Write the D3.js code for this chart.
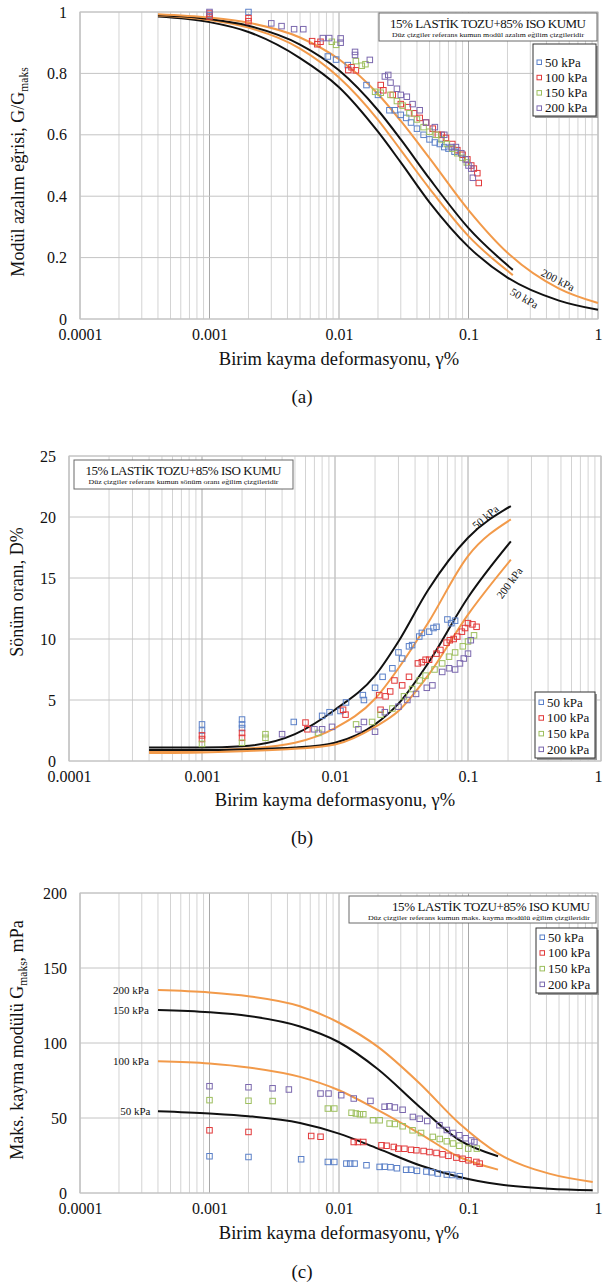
<!DOCTYPE html>
<html>
<head>
<meta charset="utf-8">
<script src="https://cdn.jsdelivr.net/npm/d3@7"></script>
<style>
  body { margin: 0; background: #fff; }
  svg { display: block; }
  text { font-family: "Liberation Serif", "Times New Roman", serif; fill: #111; }
</style>
</head>
<body>
<svg id="chart" width="603" height="1288"></svg>
<script>
// --- Data ---
const seriesNames = ["50 kPa", "100 kPa", "150 kPa", "200 kPa"];
const seriesColors = ["#5b80c8", "#e2393a", "#9dbf5e", "#7b68ae"];
const refColors = ["#111111", "#f29a4a", "#111111", "#f29a4a"];

const xTicks = [0.0001, 0.001, 0.01, 0.1, 1];
const xTickLabels = ["0.0001", "0.001", "0.01", "0.1", "1"];

const yTicksA = [0, 0.2, 0.4, 0.6, 0.8, 1];
const yTickLabelsA = ["0", "0.2", "0.4", "0.6", "0.8", "1"];
const yTicksB = [0, 5, 10, 15, 20, 25];
const yTicksC = [0, 50, 100, 150, 200];

// (a) G/Gmaks - measured points [gamma %, G/Gmaks]
const a50 = [[0.001,0.99],[0.002,1.0],[0.0082,0.855],[0.0095,0.845],[0.0117,0.827],[0.0163,0.762],[0.02,0.73],[0.0245,0.68],[0.027,0.68],[0.03,0.665],[0.033,0.655],[0.036,0.64],[0.04,0.62],[0.045,0.6],[0.05,0.585],[0.055,0.575],[0.06,0.57],[0.065,0.56],[0.07,0.555],[0.078,0.545]];
const a100 = [[0.001,0.995],[0.001,0.985],[0.002,0.98],[0.002,0.97],[0.0062,0.905],[0.0068,0.895],[0.0072,0.903],[0.0118,0.811],[0.0125,0.82],[0.0135,0.81],[0.021,0.762],[0.022,0.745],[0.026,0.73],[0.03,0.7],[0.034,0.69],[0.038,0.67],[0.042,0.655],[0.047,0.64],[0.053,0.62],[0.058,0.6],[0.062,0.6],[0.067,0.59],[0.075,0.57],[0.082,0.55],[0.09,0.535],[0.098,0.52],[0.105,0.5],[0.11,0.49],[0.117,0.475],[0.12,0.443]];
const a150 = [[0.0088,0.903],[0.0095,0.893],[0.0135,0.84],[0.015,0.825],[0.016,0.83],[0.019,0.74],[0.021,0.737],[0.025,0.73],[0.028,0.71],[0.031,0.695],[0.035,0.67],[0.04,0.65],[0.045,0.625],[0.05,0.61],[0.056,0.6],[0.062,0.585],[0.068,0.57],[0.075,0.555],[0.082,0.54],[0.09,0.525],[0.097,0.51]];
const a200 = [[0.001,1.0],[0.003,0.963],[0.0036,0.954],[0.0045,0.944],[0.0053,0.944],[0.0075,0.915],[0.0084,0.915],[0.0103,0.914],[0.0103,0.9],[0.0133,0.87],[0.0133,0.86],[0.0173,0.844],[0.0226,0.79],[0.024,0.795],[0.025,0.77],[0.028,0.75],[0.03,0.73],[0.0334,0.724],[0.037,0.7],[0.042,0.68],[0.047,0.64],[0.055,0.625],[0.065,0.6],[0.074,0.56],[0.08,0.56],[0.088,0.54],[0.095,0.52],[0.1,0.5],[0.105,0.49],[0.108,0.46]];
// (a) reference sand trend lines
const refA50 = [[0.0004,0.985],[0.001,0.967],[0.002,0.935],[0.005,0.85],[0.01,0.755],[0.02,0.61],[0.03,0.51],[0.05,0.38],[0.1,0.235],[0.2,0.135],[0.5,0.06],[1,0.03]];
const refA100 = [[0.0004,0.989],[0.001,0.974],[0.002,0.949],[0.005,0.881],[0.01,0.787],[0.02,0.649],[0.03,0.55],[0.05,0.425],[0.1,0.27],[0.22,0.143]];
const refA150 = [[0.0004,0.99],[0.001,0.977],[0.002,0.955],[0.005,0.894],[0.01,0.81],[0.02,0.68],[0.03,0.585],[0.05,0.457],[0.1,0.296],[0.22,0.16]];
const refA200 = [[0.0004,0.993],[0.001,0.982],[0.002,0.965],[0.005,0.917],[0.01,0.846],[0.02,0.733],[0.03,0.645],[0.05,0.524],[0.1,0.355],[0.2,0.216],[0.5,0.099],[1,0.052]];

// (b) damping ratio D% - measured points
const b50 = [[0.001,3.0],[0.001,2.5],[0.002,3.4],[0.002,3.0],[0.002,2.7],[0.0049,3.2],[0.008,3.7],[0.0091,4.0],[0.011,4.1],[0.0121,4.8],[0.0162,5.4],[0.0165,5.0],[0.02,6.0],[0.0228,6.9],[0.027,7.6],[0.03,8.9],[0.032,8.4],[0.036,9.4],[0.038,9.5],[0.043,10.2],[0.045,10.5],[0.051,10.6],[0.055,10.9],[0.058,11.0],[0.07,11.6],[0.075,11.3],[0.08,11.5]];
const b100 = [[0.001,2.1],[0.001,1.8],[0.002,2.3],[0.002,1.9],[0.006,3.15],[0.0062,2.6],[0.0115,4.2],[0.012,3.8],[0.0215,5.4],[0.022,4.2],[0.024,5.3],[0.026,5.7],[0.028,6.6],[0.032,6.2],[0.036,6.9],[0.042,8.0],[0.045,8.1],[0.048,8.3],[0.051,8.3],[0.058,8.8],[0.062,9.1],[0.069,9.7],[0.073,9.9],[0.078,10.0],[0.083,10.2],[0.09,10.6],[0.095,10.9],[0.1,11.3],[0.108,11.2],[0.116,11.0]];
const b150 = [[0.001,1.4],[0.002,1.5],[0.003,2.2],[0.003,1.9],[0.0075,2.3],[0.0144,3.0],[0.019,3.2],[0.022,3.8],[0.027,4.3],[0.033,5.3],[0.038,5.9],[0.0433,6.6],[0.048,7.0],[0.056,7.5],[0.064,8.0],[0.072,8.55],[0.08,8.9],[0.0914,9.4],[0.1,9.8],[0.111,10.3]];
const b200 = [[0.004,2.2],[0.007,2.6],[0.008,2.6],[0.0095,2.8],[0.015,2.6],[0.0165,3.2],[0.02,2.4],[0.0237,4.0],[0.03,4.45],[0.035,5.0],[0.0407,5.5],[0.049,6.0],[0.054,6.2],[0.064,7.3],[0.072,7.6],[0.08,7.5],[0.087,8.0],[0.093,8.4],[0.1,8.8],[0.105,9.9]];
const refB50 = [[0.0004,1.1],[0.001,1.1],[0.002,1.2],[0.005,2.2],[0.01,4.2],[0.02,7.0],[0.03,9.8],[0.05,14.0],[0.1,18.3],[0.21,20.9]];
const refB100 = [[0.0004,0.8],[0.001,0.85],[0.002,1.0],[0.005,1.5],[0.01,2.7],[0.02,5.1],[0.03,7.6],[0.05,11.3],[0.1,16.8],[0.21,19.8]];
const refB150 = [[0.0004,0.9],[0.001,0.9],[0.002,0.95],[0.005,1.1],[0.01,1.5],[0.02,3.0],[0.03,4.7],[0.05,8.0],[0.1,13.4],[0.21,18.0]];
const refB200 = [[0.0004,0.65],[0.001,0.7],[0.002,0.8],[0.005,1.0],[0.01,1.35],[0.02,2.8],[0.03,4.1],[0.05,7.0],[0.1,12.0],[0.21,16.5]];

// (c) Gmaks - measured points
const c50 = [[0.001,24.5],[0.002,24],[0.0051,22.5],[0.0082,20.7],[0.0092,20.7],[0.0114,19.6],[0.0122,19.6],[0.0132,19.6],[0.0163,18.5],[0.0206,17.4],[0.0225,17.5],[0.025,17.2],[0.028,16.5],[0.033,15.5],[0.036,15.5],[0.04,14.8],[0.0473,14.3],[0.052,13.8],[0.058,13.0],[0.068,12.3],[0.075,12.0],[0.0855,11.2]];
const c100 = [[0.001,41.8],[0.002,40.7],[0.0061,38],[0.0072,37.5],[0.013,34],[0.014,34],[0.0154,34],[0.0213,31.8],[0.0233,31.5],[0.0265,30.7],[0.0287,29.6],[0.032,29.5],[0.036,28.8],[0.0396,28.5],[0.045,28],[0.05,27.3],[0.0566,26.7],[0.063,25.8],[0.07,24.8],[0.0806,23.6],[0.09,22.8],[0.1,21.8],[0.115,20.7],[0.122,19.6]];
const c150 = [[0.001,61.9],[0.002,61.5],[0.00307,61.3],[0.0082,56.3],[0.0092,56.3],[0.0125,53.5],[0.0135,53],[0.0145,52.5],[0.0154,52.5],[0.0183,48.5],[0.0206,48.5],[0.0246,46.3],[0.027,46],[0.031,44.5],[0.037,41.8],[0.043,40],[0.053,37.4],[0.06,36],[0.068,34.5],[0.076,33],[0.085,31.5],[0.0995,29.6],[0.116,29.6]];
const c200 = [[0.001,71.2],[0.002,70.5],[0.00307,69.8],[0.0041,69],[0.0072,66.3],[0.0083,66.3],[0.0104,65.2],[0.013,63],[0.0175,61.4],[0.0225,57.5],[0.0245,57.8],[0.027,57],[0.031,55.5],[0.0372,50.7],[0.042,49.5],[0.048,48],[0.0597,45.2],[0.068,42],[0.076,40],[0.085,38.5],[0.095,36.5],[0.105,35],[0.111,34]];
const refC50 = [[0.0004,54.5],[0.001,53],[0.002,51.2],[0.005,46.7],[0.01,39.6],[0.02,29.6],[0.042,18.5],[0.085,10.7],[0.17,5.8],[0.42,2.9],[0.91,1.8]];
const refC100 = [[0.0004,87.9],[0.001,86.4],[0.002,83.7],[0.005,77.4],[0.01,68.5],[0.02,55.2],[0.042,39.6],[0.085,24],[0.169,15.6]];
const refC150 = [[0.0004,122],[0.001,120.5],[0.002,118],[0.005,111],[0.01,100.5],[0.02,82.5],[0.042,57.4],[0.085,35.2],[0.169,24.5]];
const refC200 = [[0.0004,135.3],[0.001,133.7],[0.002,131.2],[0.005,124.5],[0.01,113.5],[0.02,97.4],[0.042,73],[0.085,46.3],[0.17,26.3],[0.42,12.9],[0.91,7.4]];

const boxTitle = "15% LASTİK TOZU+85% ISO KUMU";
const xTitle = "Birim kayma deformasyonu, γ%";

// --- Drawing ---
const svg = d3.select("#chart");

function drawPanel(p) {
  const g = svg.append("g");
  const x = d3.scaleLog().domain([1e-4, 1]).range([p.left, p.right]);
  const y = d3.scaleLinear().domain(p.yDomain).range([p.bottom, p.top]);

  // grid
  const minor = [];
  for (let e = -4; e < 0; e++) for (let k = 2; k < 10; k++) minor.push(k * Math.pow(10, e));
  g.append("g").selectAll("line").data(minor).join("line")
    .attr("x1", d => x(d)).attr("x2", d => x(d))
    .attr("y1", p.top).attr("y2", p.bottom)
    .attr("stroke", "#d3d3d3").attr("stroke-width", 1);
  g.append("g").selectAll("line").data(xTicks).join("line")
    .attr("x1", d => x(d)).attr("x2", d => x(d))
    .attr("y1", p.top).attr("y2", p.bottom)
    .attr("stroke", "#a8a8a8").attr("stroke-width", 1);
  g.append("g").selectAll("line").data(p.yTicks).join("line")
    .attr("x1", p.left).attr("x2", p.right)
    .attr("y1", d => y(d)).attr("y2", d => y(d))
    .attr("stroke", "#c4c4c4").attr("stroke-width", 1);
  g.append("rect")
    .attr("x", p.left).attr("y", p.top)
    .attr("width", p.right - p.left).attr("height", p.bottom - p.top)
    .attr("fill", "none").attr("stroke", "#c4c4c4");

  // axes
  const xa = g.append("g").attr("transform", `translate(0,${p.bottom})`)
    .call(d3.axisBottom(x).tickValues(xTicks).tickFormat((d, i) => xTickLabels[i]).tickSize(0).tickPadding(10));
  const ya = g.append("g").attr("transform", `translate(${p.left},0)`)
    .call(d3.axisLeft(y).tickValues(p.yTicks).tickFormat((d, i) => p.yLabels[i]).tickSize(0).tickPadding(13));
  [xa, ya].forEach(a => {
    a.select(".domain").remove();
    a.selectAll("text").attr("font-size", 16).attr("font-family", "Liberation Serif").attr("fill", "#222");
  });
  xa.selectAll("text").attr("dx", d => x(d) > 599 ? -3 : 0);

  // reference trend lines
  const line = d3.line().x(d => x(d[0])).y(d => y(d[1])).curve(d3.curveMonotoneX);
  g.append("g").selectAll("path").data(p.refs).join("path")
    .attr("d", line).attr("fill", "none")
    .attr("stroke", (d, i) => refColors[i]).attr("stroke-width", 2);

  // measured points
  p.points.forEach((pts, i) => {
    g.append("g").selectAll("rect").data(pts).join("rect")
      .attr("x", d => x(d[0]) - 2.75).attr("y", d => y(d[1]) - 2.75)
      .attr("width", 5.5).attr("height", 5.5)
      .attr("fill", "none").attr("stroke", seriesColors[i]).attr("stroke-width", 1);
  });

  // curve labels
  p.curveLabels.forEach(c => {
    g.append("text")
      .attr("transform", `translate(${x(c.g)},${y(c.v)}) rotate(${c.rot})`)
      .attr("text-anchor", c.anchor || "middle").attr("dy", "0.35em")
      .attr("font-size", c.size).text(c.text);
  });

  // title box
  const tb = p.titleBox;
  g.append("rect").attr("x", tb.x).attr("y", tb.y).attr("width", tb.w).attr("height", tb.h)
    .attr("fill", "#fff").attr("stroke", "#6a6a6a");
  g.append("text").attr("x", tb.tx).attr("y", tb.y + 15).attr("text-anchor", tb.anchor)
    .attr("font-size", 13).attr("textLength", tb.tl).text(boxTitle);
  g.append("text").attr("x", tb.tx).attr("y", tb.y + 24).attr("text-anchor", tb.anchor)
    .attr("font-size", 5.5).attr("textLength", tb.sl).attr("lengthAdjust", "spacingAndGlyphs")
    .text(p.subtitle);

  // legend
  const lg = p.legend;
  g.append("rect").attr("x", lg.x + 2).attr("y", lg.y + 2).attr("width", lg.w).attr("height", lg.h)
    .attr("fill", "#9a9a9a");
  g.append("rect").attr("x", lg.x).attr("y", lg.y).attr("width", lg.w).attr("height", lg.h)
    .attr("fill", "#fff").attr("stroke", "#333");
  const items = g.append("g").selectAll("g").data(seriesNames).join("g")
    .attr("transform", (d, i) => `translate(${lg.x + 6},${lg.y + lg.first + i * lg.step})`);
  items.append("rect").attr("x", -2).attr("y", -2).attr("width", 4.5).attr("height", 4.5)
    .attr("fill", "none").attr("stroke", (d, i) => seriesColors[i]);
  items.append("text").attr("x", 6).attr("dy", "0.35em").attr("font-size", 13).text(d => d);

  // axis titles
  g.append("text").attr("x", (p.left + p.right) / 2).attr("y", p.xTitleY)
    .attr("text-anchor", "middle").attr("font-size", 18.5).text(xTitle);
  const yt = g.append("text")
    .attr("transform", `translate(${p.yTitleX},${p.yTitleY}) rotate(-90)`)
    .attr("text-anchor", "middle").attr("font-size", 18);
  yt.append("tspan").text(p.yTitle[0]);
  if (p.yTitle[1]) {
    yt.append("tspan").attr("font-size", 11.5).attr("dy", 4).text(p.yTitle[1]);
    if (p.yTitle[2]) yt.append("tspan").attr("dy", -4).text(p.yTitle[2]);
  }
  g.append("text").attr("x", 302).attr("y", p.capY).attr("text-anchor", "middle")
    .attr("font-size", 19).text(p.caption);
}

drawPanel({
  left: 80, right: 598, top: 12, bottom: 319,
  yDomain: [0, 1], yTicks: yTicksA, yLabels: yTickLabelsA,
  refs: [refA50, refA100, refA150, refA200],
  points: [a50, a100, a150, a200],
  curveLabels: [
    { text: "200 kPa", g: 0.49, v: 0.127, rot: 27, size: 11 },
    { text: "50 kPa", g: 0.27, v: 0.068, rot: 30, size: 11 }
  ],
  titleBox: { x: 379, y: 13, w: 218, h: 28, tx: 488, anchor: "middle", tl: 196, sl: 192 },
  subtitle: "Düz çizgiler referans kumun modül azalım eğilim çizgileridir",
  legend: { x: 533, y: 44, w: 63, h: 72, first: 18, step: 15.3 },
  yTitle: ["Modül azalım eğrisi, G/G", "maks"],
  yTitleX: 24, yTitleY: 172, xTitleY: 365, capY: 403, caption: "(a)"
});

drawPanel({
  left: 69, right: 601, top: 456, bottom: 761,
  yDomain: [0, 25], yTicks: yTicksB, yLabels: yTicksB.map(String),
  refs: [refB50, refB100, refB150, refB200],
  points: [b50, b100, b150, b200],
  curveLabels: [
    { text: "50 kPa", g: 0.135, v: 20.0, rot: -40, size: 11 },
    { text: "200 kPa", g: 0.205, v: 14.6, rot: -54, size: 11 }
  ],
  titleBox: { x: 74, y: 460, w: 219, h: 29, tx: 183.5, anchor: "middle", tl: 196, sl: 190 },
  subtitle: "Düz çizgiler referans kumun sönüm oranı eğilim çizgileridir",
  legend: { x: 535, y: 692, w: 60, h: 66, first: 10, step: 15.7 },
  yTitle: ["Sönüm oranı, D%"],
  yTitleX: 23, yTitleY: 592, xTitleY: 806, capY: 844, caption: "(b)"
});

drawPanel({
  left: 80, right: 598, top: 893, bottom: 1193,
  yDomain: [0, 200], yTicks: yTicksC, yLabels: yTicksC.map(String),
  refs: [refC50, refC100, refC150, refC200],
  points: [c50, c100, c150, c200],
  curveLabels: [
    { text: "200 kPa", g: 0.00034, v: 135.3, rot: 0, size: 11, anchor: "end" },
    { text: "150 kPa", g: 0.00034, v: 122, rot: 0, size: 11, anchor: "end" },
    { text: "100 kPa", g: 0.00034, v: 87.9, rot: 0, size: 11, anchor: "end" },
    { text: "50 kPa", g: 0.00035, v: 54.5, rot: 0, size: 11, anchor: "end" }
  ],
  titleBox: { x: 349, y: 896, w: 247, h: 27, tx: 590, anchor: "end", tl: 198, sl: 222 },
  subtitle: "Düz çizgiler referans kumun maks. kayma modülü eğilim çizgileridir",
  legend: { x: 536, y: 928, w: 61, h: 65, first: 9, step: 15.7 },
  yTitle: ["Maks. kayma modülü G", "maks", ", mPa"],
  yTitleX: 23, yTitleY: 1040, xTitleY: 1239, capY: 1278, caption: "(c)"
});
</script>
</body>
</html>
